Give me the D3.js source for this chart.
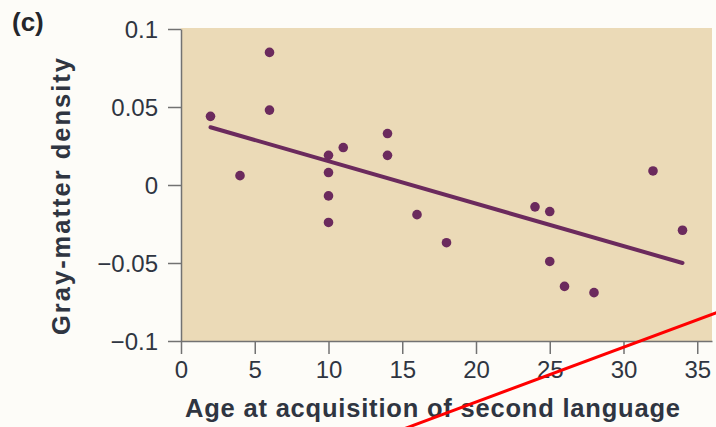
<!DOCTYPE html>
<html>
<head>
<meta charset="utf-8">
<script src="https://cdn.jsdelivr.net/npm/d3@7"></script>
<style>
  html, body { margin: 0; padding: 0; background: #fdfcf8; }
  svg { display: block; }
</style>
</head>
<body>
<svg id="chart" width="716" height="427"></svg>
<script>
// ---- data ----
const ages = [2, 4, 6, 6, 10, 10, 10, 10, 11, 14, 14, 16, 18, 24, 25, 25, 26, 28, 32, 34];
const density = [0.044, 0.006, 0.085, 0.048, 0.019, 0.008, -0.007, -0.024, 0.024, 0.033,
                 0.019, -0.019, -0.037, -0.014, -0.017, -0.049, -0.065, -0.069, 0.009, -0.029];
const fitAges = [2, 34];
const fitDensity = [0.037, -0.050];
const xTicks = [0, 5, 10, 15, 20, 25, 30, 35];
const yTicks = [0.1, 0.05, 0, -0.05, -0.1];
const yTickLabels = ["0.1", "0.05", "0", "\u22120.05", "\u22120.1"];
const panelLabel = "(c)";
const xTitle = "Age at acquisition of second language";
const yTitle = "Gray-matter density";
// red annotation stroke (data units)
const markAges = [15.2, 36.4];
const markDensity = [-0.156, -0.0815];

// ---- layout ----
const svg = d3.select("#chart");
const x = d3.scaleLinear().domain([0, 36]).range([181, 712]);
const y = d3.scaleLinear().domain([-0.1, 0.1]).range([341, 29]);

const textColor = "#2f3541";
const axisColor = "#727272";
const purple = "#6b2a5d";
const font = "'Liberation Sans', Arial, Helvetica, sans-serif";

// plot background
svg.append("rect")
  .attr("x", x(0)).attr("y", y(0.1) - 1)
  .attr("width", x(36) - x(0)).attr("height", y(-0.1) - y(0.1) + 1)
  .attr("fill", "#ebdab7");

// axes
const xAxis = d3.axisBottom(x).tickValues(xTicks).tickSize(13).tickSizeOuter(0).tickPadding(7)
  .tickFormat(d3.format("d"));
const yAxis = d3.axisLeft(y).tickValues(yTicks).tickSize(13).tickSizeOuter(0).tickPadding(10)
  .tickFormat((d, i) => yTickLabels[i]);

const gx = svg.append("g").attr("transform", `translate(0,${y(-0.1)})`).call(xAxis);
const gy = svg.append("g").attr("transform", `translate(${x(0)},0)`).call(yAxis);

[gx, gy].forEach(g => {
  g.selectAll("path, line").attr("stroke", axisColor).attr("stroke-width", 1.5);
  g.selectAll("text")
    .attr("fill", textColor)
    .style("font-family", font)
    .style("font-size", "24px");
});
gy.selectAll("text").attr("dy", "0.36em");

// regression line
svg.append("line")
  .attr("x1", x(fitAges[0])).attr("y1", y(fitDensity[0]))
  .attr("x2", x(fitAges[1])).attr("y2", y(fitDensity[1]))
  .attr("stroke", purple).attr("stroke-width", 4).attr("stroke-linecap", "round");

// points
svg.append("g").selectAll("circle")
  .data(ages.map((a, i) => ({a, d: density[i]})))
  .join("circle")
  .attr("cx", d => x(d.a)).attr("cy", d => y(d.d))
  .attr("r", 4.8).attr("fill", purple);

// titles
svg.append("text")
  .attr("x", 185).attr("y", 417)
  .attr("textLength", 495).attr("lengthAdjust", "spacing")
  .attr("fill", textColor)
  .style("font-family", font)
  .style("font-weight", "bold").style("font-size", "25.5px")
  .text(xTitle);

svg.append("text")
  .attr("transform", "translate(70,335) rotate(-90)")
  .attr("textLength", 277).attr("lengthAdjust", "spacing")
  .attr("fill", textColor)
  .style("font-family", font)
  .style("font-weight", "bold").style("font-size", "25.5px")
  .text(yTitle);

svg.append("text")
  .attr("x", 12).attr("y", 31)
  .attr("fill", "#24262c")
  .style("font-family", font)
  .style("font-weight", "bold").style("font-size", "26px")
  .text(panelLabel);

// red annotation stroke
svg.append("line")
  .attr("x1", x(markAges[0])).attr("y1", y(markDensity[0]))
  .attr("x2", x(markAges[1])).attr("y2", y(markDensity[1]))
  .attr("stroke", "#ff0000").attr("stroke-width", 3);
</script>
</body>
</html>
